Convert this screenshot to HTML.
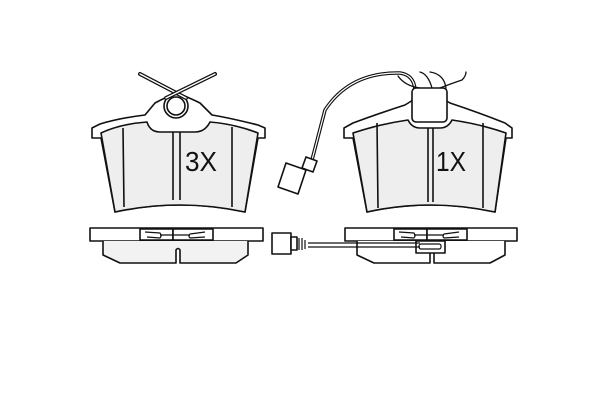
<!DOCTYPE html>
<html><head><style>html,body{margin:0;padding:0;background:#fff;width:600px;height:400px;overflow:hidden}</style></head>
<body>
<svg width="600" height="400" viewBox="0 0 600 400" xmlns="http://www.w3.org/2000/svg" fill="none" stroke="#111" stroke-width="1.6" stroke-linejoin="round">
<!-- LEFT PAD -->
<path d="M92,128 L92,138 L101,138 L115,212 Q180,198 245,212 L258,138 L265,138 L265,128 L258,125 Q230,118 212,115 L200,103 Q190,98 177,93 Q164,98 155,103 L145,115 Q120,118 100,124 Z" fill="#fff"/>
<path d="M101,133 L115,212 Q180,198 245,212 L258,133 Q235,124 210,122 Q205,132 195,132 L160,132 Q150,132 147,122 Q120,124 101,133 Z" fill="#eeeeee"/>
<line x1="123" y1="128" x2="124" y2="207"/>
<line x1="232" y1="127" x2="232" y2="207"/>
<line x1="173" y1="132" x2="173" y2="200"/>
<line x1="180" y1="132" x2="180" y2="200"/>
<circle cx="176" cy="106" r="12" fill="#fff"/>
<circle cx="176" cy="106" r="9"/>
<g stroke-linecap="round">
<path d="M140,74 L186,98" stroke-width="4"/>
<path d="M140,74 L186,98" stroke="#fff" stroke-width="1.4"/>
<path d="M215,74 L166,98" stroke-width="4"/>
<path d="M215,74 L166,98" stroke="#fff" stroke-width="1.4"/>
</g>
<text x="185" y="171" font-family="Liberation Sans Narrow, Liberation Sans, sans-serif" font-size="28" fill="#111" stroke="none" textLength="32" lengthAdjust="spacingAndGlyphs">3X</text>
<!-- RIGHT PAD -->
<path d="M344,128 L344,138 L353,138 L367,212 Q430,198 495,212 L506,138 L512,138 L512,128 L505,123 Q480,113 450,103 L445,100 L413,100 L405,105 Q380,113 353,123 Z" fill="#fff"/>
<path d="M353,133 L367,212 Q430,198 495,212 L506,133 Q480,124 452,120 Q448,128 440,128 L420,128 Q412,128 408,120 Q380,124 353,133 Z" fill="#eeeeee"/>
<line x1="377" y1="123" x2="378" y2="208"/>
<line x1="483" y1="123" x2="483" y2="208"/>
<line x1="428" y1="128" x2="428" y2="202"/>
<line x1="433" y1="128" x2="433" y2="202"/>
<g stroke-linecap="round">
<path d="M415,90 Q414,75 400,73 Q350,72 325,110 L312,160" stroke-width="3.5"/>
<path d="M415,90 Q414,75 400,73 Q350,72 325,110 L312,160" stroke="#fff" stroke-width="1.2"/>
<path d="M398,76 Q405,86 420,88 M432,88 Q428,74 420,72 M440,88 Q450,84 462,80 Q466,76 466,72 M430,72 Q444,74 446,88" stroke-width="1.3"/>
</g>
<rect x="412" y="88" width="35" height="34" rx="4" fill="#fff"/>
<path d="M306,157 L317,161 L313,172 L302,168 Z" fill="#fff"/>
<path d="M286,163 L306,170 L298,194 L278,187 Z" fill="#fff"/>
<text x="436" y="171" font-family="Liberation Sans Narrow, Liberation Sans, sans-serif" font-size="28" fill="#111" stroke="none" textLength="30" lengthAdjust="spacingAndGlyphs">1X</text>
<!-- LEFT PROFILE -->
<rect x="90" y="228" width="173" height="13" fill="#fff"/>
<path d="M103,241 L103,255 L120,263 L176,263 L176,250 Q178,247 180,250 L180,263 L236,263 L248,255 L248,241" fill="#f2f2f2"/>
<rect x="140" y="229" width="33" height="11" fill="#fff"/>
<rect x="173" y="229" width="40" height="11" fill="#fff"/>
<path d="M145,232 L160,233 Q162,236 160,238 L147,237 M205,232 L190,234 Q188,236 190,238 L205,237" stroke-width="1.2"/>
<line x1="160" y1="235" x2="190" y2="235" stroke-width="1.2"/>
<!-- RIGHT PROFILE -->
<rect x="345" y="228" width="172" height="13" fill="#fff"/>
<path d="M357,241 L357,255 L374,263 L430,263 L430,250 Q432,247 434,250 L434,263 L490,263 L505,255 L505,241" fill="#fff"/>
<rect x="394" y="229" width="33" height="11" fill="#fff"/>
<rect x="427" y="229" width="40" height="11" fill="#fff"/>
<path d="M399,232 L414,233 Q416,236 414,238 L401,237 M459,232 L444,234 Q442,236 444,238 L459,237" stroke-width="1.2"/>
<line x1="414" y1="235" x2="444" y2="235" stroke-width="1.2"/>
<rect x="416" y="241" width="29" height="12" fill="#fff"/>
<rect x="419" y="244" width="22" height="5" rx="2" stroke-width="1.2"/>
<line x1="308" y1="243" x2="420" y2="243" stroke-width="1.2"/>
<line x1="308" y1="247" x2="420" y2="247" stroke-width="1.2"/>
<rect x="272" y="233" width="19" height="21" fill="#fff"/>
<rect x="291" y="237" width="6" height="13" fill="#fff"/>
<path d="M299,238 L299,250 M302,238 L302,250 M305,240 L305,249" stroke-width="1.2"/>
</svg>
</body></html>
